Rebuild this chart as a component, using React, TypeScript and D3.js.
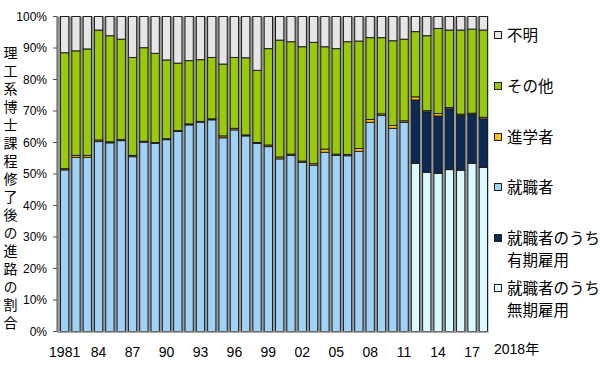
import React from "react";
import * as d3 from "d3";

const years: number[] = d3.range(1981, 2019);
// 就職者 (1981–2011)
const employed: number[] = [51.3, 55.3, 55.3, 60.3, 59.9, 60.6, 55.5, 60.1, 59.7, 60.9, 63.5, 65.6, 66.4, 67.2, 61.5, 64.0, 62.1, 59.7, 58.7, 54.8, 55.9, 53.7, 52.8, 56.9, 55.9, 55.8, 57.2, 66.4, 68.6, 64.5, 66.4];
// 就職者のうち無期雇用 (2012–2018)
const permanent: number[] = [53.4, 50.5, 50.2, 51.4, 51.2, 53.4, 52.1];
// 就職者のうち有期雇用 (2012–2018)
const fixedTerm: number[] = [20.1, 19.2, 18.2, 19.3, 17.4, 15.5, 15.4];
// 進学者
const advance: number[] = [0.4, 0.6, 0.6, 0.5, 0.3, 0.3, 0.4, 0.3, 0.3, 0.3, 0.3, 0.3, 0.3, 0.3, 0.6, 0.5, 0.3, 0.3, 0.5, 0.6, 0.4, 0.4, 0.5, 1.0, 0.4, 0.4, 0.9, 0.9, 0.5, 0.9, 0.5, 1.0, 0.4, 0.8, 0.4, 0.4, 0.4, 0.5];
// その他
const other: number[] = [36.8, 33.2, 33.8, 34.9, 33.7, 31.9, 31.1, 29.7, 28.3, 25.0, 21.4, 20.1, 19.6, 19.5, 22.8, 22.5, 24.5, 22.9, 30.6, 37.1, 35.7, 36.3, 38.5, 32.5, 33.5, 35.8, 34.1, 26.0, 24.2, 26.9, 25.9, 20.7, 23.8, 27.0, 24.6, 26.7, 26.7, 27.7];
// 不明
const unknown: number[] = [11.5, 10.9, 10.3, 4.3, 6.1, 7.2, 13.0, 9.9, 11.7, 13.8, 14.8, 14.0, 13.7, 13.0, 15.1, 13.0, 13.1, 17.1, 10.2, 7.5, 8.0, 9.6, 8.2, 9.6, 10.2, 8.0, 7.8, 6.7, 6.7, 7.7, 7.2, 4.8, 6.1, 3.8, 4.3, 4.3, 4.0, 4.3];

const yTicks: number[] = [0, 10, 20, 30, 40, 50, 60, 70, 80, 90, 100];
const xTickYears: number[] = [1981, 1984, 1987, 1990, 1993, 1996, 1999, 2002, 2005, 2008, 2011, 2014, 2017];
const xTickLabel = (y: number) => (y === 1981 ? "1981" : String(y % 100).padStart(2, "0"));
const yTitle = "理工系博士課程修了後の進路の割合";

const keys = ["permanent", "fixed", "employed", "advance", "other", "unknown"];
const colors: Record<string, string> = {
  permanent: "#d9fbff",
  fixed: "#0b2b57",
  employed: "#9dd3f9",
  advance: "#ffc000",
  other: "#99cc00",
  unknown: "#e6e6e6",
};

const legendItems = [
  { key: "unknown", lines: ["不明"], y: 35 },
  { key: "other", lines: ["その他"], y: 86 },
  { key: "advance", lines: ["進学者"], y: 137 },
  { key: "employed", lines: ["就職者"], y: 187 },
  { key: "fixed", lines: ["就職者のうち", "有期雇用"], y: 238 },
  { key: "permanent", lines: ["就職者のうち", "無期雇用"], y: 288 },
];

const rows = years.map((yr, i) => ({
  year: yr,
  employed: i < employed.length ? employed[i] : 0,
  permanent: i >= employed.length ? permanent[i - employed.length] : 0,
  fixed: i >= employed.length ? fixedTerm[i - employed.length] : 0,
  advance: advance[i],
  other: other[i],
  unknown: unknown[i],
}));

export default function App() {
  const W = 600, H = 369;
  const top = 16.5, bottom = 331.5;
  const axisX = 57;
  const x = d3.scaleBand<number>().domain(years).range([59, 489]).paddingInner(0.18).paddingOuter(0.09);
  const y = d3.scaleLinear().domain([0, 100]).range([bottom, top]);
  const stack = d3.stack<any>().keys(keys)(rows as any);
  const cjk = "'Noto Sans CJK JP', sans-serif";
  const num = "'Liberation Sans', Arial, sans-serif";
  const lastX = (x(2018) as number) + x.bandwidth();
  const titleFont = 14;
  const titleStep = 18;

  return (
    <svg width={W} height={H} style={{ position: "absolute", left: 0, top: 0, background: "#fff" }}>
      {/* gap background */}
      <rect x={axisX} y={top} width={lastX - axisX + 0.5} height={bottom - top} fill="#9a9a9a" />
      {stack.map((layer) => (
        <g key={layer.key}>
          {layer.map((d: any, i: number) => {
            const h = y(d[0]) - y(d[1]);
            if (h <= 0) return null;
            return (
              <rect
                key={i}
                x={(x(years[i]) as number) + 0.5}
                y={y(d[1])}
                width={x.bandwidth() - 1}
                height={h}
                fill={colors[layer.key]}
                stroke="#1e1e1e"
                strokeWidth={1}
              />
            );
          })}
        </g>
      ))}
      {/* axes */}
      <line x1={axisX} x2={axisX} y1={top} y2={bottom} stroke="#555" strokeWidth={1} />
      <line x1={axisX} x2={lastX + 0.5} y1={bottom + 0.5} y2={bottom + 0.5} stroke="#888" strokeWidth={1.5} />
      {yTicks.map((t) => (
        <g key={t}>
          <line x1={axisX - 4} x2={axisX} y1={y(t)} y2={y(t)} stroke="#555" />
          <text x={47} y={y(t)} dy="0.36em" textAnchor="end" fontSize={12} fontFamily={num} fill="#000">
            {t + "%"}
          </text>
        </g>
      ))}
      {xTickYears.map((yr) => (
        <text
          key={yr}
          x={(x(yr) as number) + x.bandwidth() / 2}
          y={357}
          textAnchor="middle"
          fontSize={14}
          fontFamily={num}
          fill="#000"
        >
          {xTickLabel(yr)}
        </text>
      ))}
      <text x={494} y={354} fontSize={14} fontFamily={cjk} fill="#000">
        <tspan fontFamily={num}>2018</tspan>年
      </text>
      {/* y title, vertical */}
      <text
        x={10.5}
        y={53 - titleFont / 2}
        fontSize={titleFont}
        fontFamily={cjk}
        fill="#000"
        letterSpacing={titleStep - titleFont}
        style={{ writingMode: "vertical-rl" as any }}
      >
        {yTitle}
      </text>
      {/* legend */}
      {legendItems.map((it) => (
        <g key={it.key}>
          <rect x={494.5} y={it.y - 3.5} width={7} height={7} fill={colors[it.key]} stroke="#1e1e1e" strokeWidth={1} />
          {it.lines.map((ln, j) => (
            <text key={j} x={507} y={it.y + j * 22} dy="0.36em" fontSize={15.5} fontFamily={cjk} fill="#000">
              {ln}
            </text>
          ))}
        </g>
      ))}
    </svg>
  );
}
